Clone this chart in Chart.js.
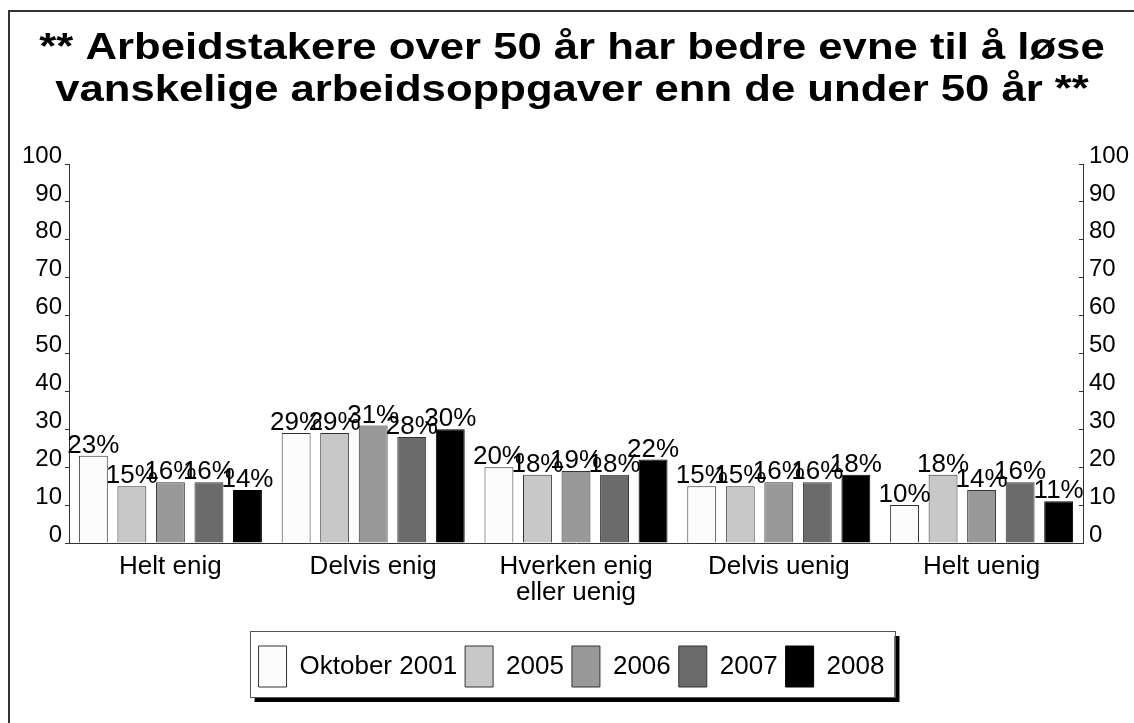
<!DOCTYPE html>
<html>
<head>
<meta charset="utf-8">
<script src="https://cdn.jsdelivr.net/npm/chart.js@4.4.1/dist/chart.umd.min.js"></script>
<style>
  html, body { margin: 0; padding: 0; background: #ffffff; }
  canvas { display: block; }
</style>
</head>
<body>
<canvas id="chart" width="1134" height="723"></canvas>
<script>
// Survey answers, share of respondents (%) per year
const categories = ['Helt enig', 'Delvis enig', ['Hverken enig', 'eller uenig'], 'Delvis uenig', 'Helt uenig'];
const seriesNames = ['Oktober 2001', '2005', '2006', '2007', '2008'];
const values2001 = [23, 29, 20, 15, 10];
const values2005 = [15, 29, 18, 15, 18];
const values2006 = [16, 31, 19, 16, 14];
const values2007 = [16, 28, 18, 16, 16];
const values2008 = [14, 30, 22, 18, 11];
const yTickValues = [0, 10, 20, 30, 40, 50, 60, 70, 80, 90, 100];
const titleLines = [
  '** Arbeidstakere over 50 år har bedre evne til å løse',
  'vanskelige arbeidsoppgaver enn de under 50 år **'
];

const seriesValues = [values2001, values2005, values2006, values2007, values2008];
const seriesFills = ['#fcfcfc', '#c8c8c8', '#999999', '#6b6b6b', '#000000'];
const FONT = "'Liberation Sans', Arial, Helvetica, sans-serif";
const INK = '#000000';
const LINE = '#333333';

// White page, outer frame, framed legend with drop shadow
const backdrop = {
  id: 'backdrop',
  beforeDraw(chart) {
    const ctx = chart.ctx;
    ctx.save();
    ctx.fillStyle = '#ffffff';
    ctx.fillRect(0, 0, chart.width, chart.height);
    ctx.strokeStyle = LINE;
    ctx.lineWidth = 2;
    ctx.beginPath();
    ctx.moveTo(9, chart.height + 2);
    ctx.lineTo(9, 11);
    ctx.lineTo(chart.width + 2, 11);
    ctx.stroke();

    const boxes = chart.legend && chart.legend.legendHitBoxes;
    if (boxes && boxes.length) {
      const l = Math.min(...boxes.map(b => b.left)) - 9;
      const r = Math.max(...boxes.map(b => b.left + b.width)) + 10;
      const t = Math.min(...boxes.map(b => b.top)) - 15;
      const bt = Math.max(...boxes.map(b => b.top + b.height)) + 10;
      ctx.fillStyle = '#000000';
      ctx.fillRect(l + 5, t + 5, r - l, bt - t);
      ctx.fillStyle = '#ffffff';
      ctx.fillRect(l, t, r - l, bt - t);
      ctx.strokeStyle = '#555555';
      ctx.lineWidth = 1;
      ctx.strokeRect(Math.round(l) + 0.5, Math.round(t) + 0.5, Math.round(r - l), Math.round(bt - t));
    }
    ctx.restore();
  }
};

// Two-line bold heading, set wide
const heading = {
  id: 'heading',
  afterDraw(chart) {
    const ctx = chart.ctx;
    ctx.save();
    ctx.fillStyle = INK;
    ctx.font = 'bold 37px ' + FONT;
    ctx.textAlign = 'center';
    ctx.textBaseline = 'alphabetic';
    const cx = 572;
    const baselines = [59, 101];
    titleLines.forEach((line, i) => {
      ctx.save();
      ctx.translate(cx, baselines[i]);
      ctx.scale(1.18, 1);
      ctx.fillText(line, 0, 0);
      ctx.restore();
    });
    ctx.restore();
  }
};

// Percentage printed above every bar
const valueLabels = {
  id: 'valueLabels',
  afterDatasetsDraw(chart) {
    const ctx = chart.ctx;
    ctx.save();
    ctx.fillStyle = INK;
    ctx.font = '26px ' + FONT;
    ctx.textAlign = 'center';
    ctx.textBaseline = 'alphabetic';
    chart.data.datasets.forEach((ds, di) => {
      const meta = chart.getDatasetMeta(di);
      meta.data.forEach((bar, i) => {
        ctx.fillText(ds.data[i] + '%', bar.x, bar.y - 3);
      });
    });
    ctx.restore();
  }
};

const yAxisCommon = {
  type: 'linear',
  min: 0,
  max: 100,
  afterBuildTicks(scale) { scale.ticks = yTickValues.map(v => ({ value: v })); },
  border: { display: true, color: LINE, width: 1 },
  ticks: { color: INK, font: { family: FONT, size: 24 }, labelOffset: -8 }
};

new Chart(document.getElementById('chart'), {
  type: 'bar',
  data: {
    labels: categories,
    datasets: seriesNames.map((name, i) => ({
      label: name,
      data: seriesValues[i],
      backgroundColor: seriesFills[i],
      borderColor: i === 4 ? '#000000' : LINE,
      borderWidth: 1,
      barPercentage: 0.75,
      categoryPercentage: 0.95,
      yAxisID: 'y'
    }))
  },
  options: {
    responsive: false,
    devicePixelRatio: 1,
    animation: false,
    layout: { padding: { top: 164, left: 9, right: 0, bottom: 26 } },
    scales: {
      x: {
        grid: { display: false },
        border: { display: true, color: LINE, width: 1 },
        ticks: { color: INK, padding: 3, maxRotation: 0, font: { family: FONT, size: 26, lineHeight: 1.0 } },
        afterFit(scale) { scale.height = 95; }
      },
      y: Object.assign({}, yAxisCommon, {
        position: 'left',
        grid: { display: true, drawOnChartArea: false, drawTicks: true, tickLength: 4, color: LINE },
        ticks: Object.assign({}, yAxisCommon.ticks, { padding: 3 }),
        afterFit(scale) { scale.width = 60; }
      }),
      y2: Object.assign({}, yAxisCommon, {
        position: 'right',
        grid: { display: true, drawOnChartArea: false, drawTicks: true, tickLength: -4, color: LINE },
        ticks: Object.assign({}, yAxisCommon.ticks, { padding: 10 }),
        afterFit(scale) { scale.width = 51; }
      })
    },
    plugins: {
      title: { display: false },
      tooltip: { enabled: false },
      legend: {
        display: true,
        position: 'bottom',
        align: 'center',
        labels: {
          boxWidth: 28,
          boxHeight: 41,
          padding: 8,
          color: INK,
          font: { family: FONT, size: 26 }
        }
      }
    }
  },
  plugins: [backdrop, valueLabels, heading]
});
</script>
</body>
</html>
